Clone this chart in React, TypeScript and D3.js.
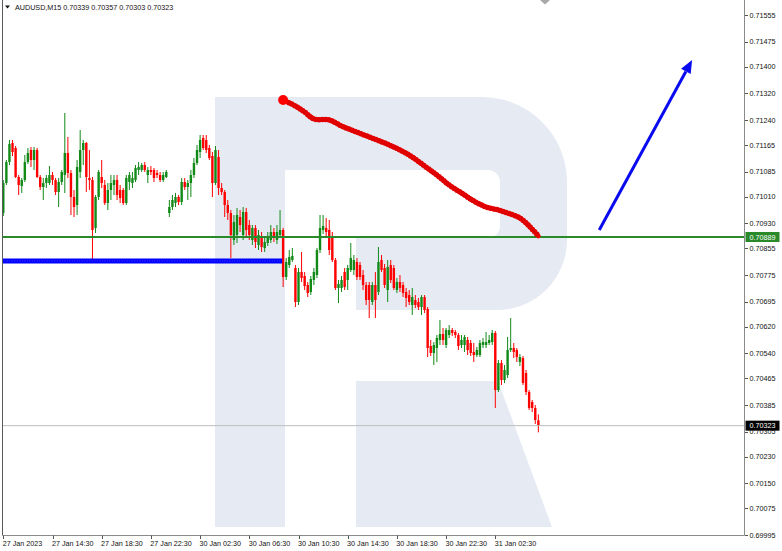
import React from "react";
import * as d3 from "d3";

const symbolTitle = "AUDUSD,M15";
const headerValues = ["0.70339", "0.70357", "0.70303", "0.70323"];

const opens = [
  0.70961,0.71051,0.71114,0.71171,0.71156,0.71069,0.71042,0.71060,0.71114,0.71150,
  0.71120,0.71150,0.71069,0.71039,0.71051,0.71051,0.71075,0.71060,0.71024,0.71054,
  0.71075,0.71141,0.71081,0.71009,0.70985,0.71084,0.71150,0.71171,0.71066,0.71060,
  0.70916,0.71009,0.71069,0.71045,0.70991,0.71030,0.71045,0.71060,0.71030,0.71030,
  0.70991,0.71054,0.71051,0.71060,0.71090,0.71090,0.71105,0.71075,0.71090,0.71090,
  0.71081,0.71075,0.71060,0.71069,0.70961,0.70979,0.70991,0.71009,0.70994,0.71054,
  0.71039,0.71051,0.71075,0.71111,0.71144,0.71186,0.71180,0.71156,0.71132,0.71051,
  0.71129,0.71036,0.71024,0.70985,0.70961,0.70880,0.70895,0.70949,0.70895,0.70964,
  0.70925,0.70880,0.70916,0.70865,0.70886,0.70856,0.70871,0.70880,0.70904,0.70880,
  0.70895,0.70910,0.70769,0.70805,0.70820,0.70796,0.70694,0.70784,0.70772,0.70745,
  0.70724,0.70760,0.70775,0.70850,0.70910,0.70916,0.70910,0.70889,0.70820,0.70736,
  0.70736,0.70784,0.70760,0.70790,0.70790,0.70814,0.70805,0.70775,0.70745,0.70745,
  0.70694,0.70745,0.70724,0.70820,0.70796,0.70730,0.70805,0.70796,0.70730,0.70754,
  0.70745,0.70724,0.70715,0.70685,0.70700,0.70694,0.70679,0.70709,0.70673,0.70562,
  0.70541,0.70556,0.70580,0.70598,0.70565,0.70595,0.70610,0.70604,0.70595,0.70565,
  0.70565,0.70580,0.70571,0.70544,0.70535,0.70535,0.70565,0.70565,0.70571,0.70574,
  0.70601,0.70430,0.70511,0.70460,0.70475,0.70550,0.70556,0.70550,0.70514,0.70526,
  0.70481,0.70424,0.70394,0.70376,0.70339,
];

const highs = [
  0.71060,0.71120,0.71180,0.71180,0.71162,0.71075,0.71066,0.71135,0.71156,0.71159,
  0.71159,0.71156,0.71075,0.71066,0.71075,0.71102,0.71084,0.71066,0.71066,0.71090,
  0.71261,0.71189,0.71090,0.71030,0.71120,0.71210,0.71180,0.71174,0.71150,0.71069,
  0.71015,0.71090,0.71120,0.71060,0.71051,0.71075,0.71075,0.71075,0.71045,0.71036,
  0.71075,0.71084,0.71084,0.71105,0.71114,0.71111,0.71114,0.71099,0.71102,0.71096,
  0.71090,0.71084,0.71084,0.71090,0.71000,0.71015,0.71021,0.71015,0.71066,0.71066,
  0.71060,0.71090,0.71126,0.71165,0.71195,0.71195,0.71195,0.71165,0.71144,0.71162,
  0.71150,0.71051,0.71030,0.71000,0.70970,0.70955,0.70976,0.70970,0.70979,0.70976,
  0.70940,0.70925,0.70925,0.70910,0.70904,0.70886,0.70904,0.70925,0.70916,0.70925,
  0.70970,0.70916,0.70826,0.70850,0.70856,0.70805,0.70796,0.70844,0.70784,0.70754,
  0.70772,0.70796,0.70856,0.70955,0.70955,0.70946,0.70940,0.70904,0.70826,0.70760,
  0.70772,0.70796,0.70805,0.70871,0.70835,0.70826,0.70814,0.70790,0.70754,0.70754,
  0.70754,0.70784,0.70859,0.70835,0.70808,0.70820,0.70820,0.70805,0.70766,0.70775,
  0.70754,0.70736,0.70730,0.70736,0.70715,0.70706,0.70715,0.70715,0.70679,0.70580,
  0.70574,0.70595,0.70640,0.70616,0.70616,0.70625,0.70616,0.70610,0.70601,0.70595,
  0.70595,0.70589,0.70580,0.70571,0.70559,0.70580,0.70586,0.70604,0.70595,0.70610,
  0.70607,0.70520,0.70520,0.70505,0.70589,0.70646,0.70571,0.70556,0.70538,0.70532,
  0.70490,0.70430,0.70400,0.70385,0.70357,
];

const lows = [
  0.70952,0.71045,0.71105,0.71132,0.71066,0.71015,0.71021,0.71054,0.71108,0.71099,
  0.71090,0.71066,0.71030,0.71000,0.71036,0.71045,0.71045,0.71015,0.70979,0.71045,
  0.71021,0.71066,0.70955,0.70949,0.70955,0.71066,0.71105,0.71024,0.71030,0.70820,
  0.70901,0.71000,0.71036,0.70985,0.70970,0.71000,0.71015,0.71000,0.70991,0.70985,
  0.70985,0.71030,0.71036,0.71054,0.71075,0.71084,0.71084,0.71051,0.71075,0.71054,
  0.71066,0.71054,0.71054,0.71066,0.70949,0.70970,0.70979,0.70985,0.70985,0.71030,
  0.71000,0.71009,0.71066,0.71105,0.71126,0.71150,0.71141,0.71120,0.71009,0.71045,
  0.71015,0.71015,0.70949,0.70940,0.70826,0.70865,0.70871,0.70904,0.70880,0.70886,
  0.70880,0.70865,0.70856,0.70850,0.70844,0.70844,0.70862,0.70871,0.70874,0.70868,
  0.70886,0.70739,0.70760,0.70796,0.70814,0.70679,0.70685,0.70754,0.70730,0.70709,
  0.70715,0.70745,0.70766,0.70841,0.70898,0.70892,0.70835,0.70814,0.70730,0.70691,
  0.70724,0.70730,0.70730,0.70784,0.70775,0.70760,0.70760,0.70730,0.70685,0.70646,
  0.70685,0.70646,0.70715,0.70784,0.70736,0.70694,0.70751,0.70730,0.70721,0.70724,
  0.70709,0.70679,0.70685,0.70655,0.70676,0.70670,0.70655,0.70661,0.70529,0.70532,
  0.70505,0.70514,0.70565,0.70565,0.70556,0.70586,0.70592,0.70586,0.70550,0.70556,
  0.70544,0.70535,0.70532,0.70514,0.70529,0.70529,0.70556,0.70556,0.70565,0.70565,
  0.70376,0.70424,0.70445,0.70451,0.70466,0.70544,0.70526,0.70514,0.70502,0.70445,
  0.70415,0.70370,0.70364,0.70328,0.70303,
];

const closes = [
  0.71051,0.71114,0.71168,0.71144,0.71069,0.71045,0.71060,0.71114,0.71141,0.71120,
  0.71150,0.71069,0.71039,0.71051,0.71066,0.71075,0.71060,0.71024,0.71054,0.71084,
  0.71141,0.71081,0.71009,0.70979,0.71099,0.71150,0.71171,0.71069,0.71060,0.70910,
  0.71009,0.71084,0.71051,0.70991,0.71030,0.71051,0.71060,0.71015,0.71006,0.70991,
  0.71066,0.71075,0.71066,0.71096,0.71099,0.71105,0.71090,0.71090,0.71084,0.71066,
  0.71075,0.71060,0.71075,0.71084,0.70979,0.71000,0.71009,0.70994,0.71054,0.71039,
  0.71051,0.71075,0.71111,0.71150,0.71180,0.71156,0.71150,0.71126,0.71051,0.71150,
  0.71036,0.71024,0.70985,0.70961,0.70895,0.70934,0.70955,0.70925,0.70964,0.70910,
  0.70895,0.70916,0.70874,0.70895,0.70859,0.70874,0.70886,0.70904,0.70886,0.70904,
  0.70910,0.70769,0.70814,0.70829,0.70832,0.70694,0.70784,0.70766,0.70742,0.70721,
  0.70763,0.70784,0.70850,0.70916,0.70922,0.70904,0.70850,0.70820,0.70736,0.70748,
  0.70760,0.70739,0.70796,0.70826,0.70820,0.70769,0.70769,0.70745,0.70700,0.70700,
  0.70745,0.70700,0.70814,0.70790,0.70745,0.70799,0.70760,0.70736,0.70754,0.70736,
  0.70721,0.70706,0.70694,0.70709,0.70685,0.70679,0.70709,0.70670,0.70556,0.70541,
  0.70565,0.70586,0.70598,0.70580,0.70610,0.70610,0.70601,0.70595,0.70562,0.70580,
  0.70589,0.70550,0.70541,0.70535,0.70550,0.70571,0.70574,0.70574,0.70580,0.70601,
  0.70430,0.70511,0.70460,0.70490,0.70550,0.70556,0.70544,0.70529,0.70529,0.70451,
  0.70424,0.70376,0.70376,0.70340,0.70323,
];

const priceTicks = [
  0.71555, 0.71475, 0.71400, 0.71320, 0.71240, 0.71165, 0.71085, 0.71010, 0.70930, 0.70855,
  0.70775, 0.70695, 0.70620, 0.70540, 0.70465, 0.70385, 0.70305, 0.70230, 0.70150, 0.70075, 0.69995,
];
const timeTickIndex = [0, 16, 32, 48, 64, 80, 96, 112, 128, 144, 160];
const timeTickLabels = [
  "27 Jan 2023", "27 Jan 14:30", "27 Jan 18:30", "27 Jan 22:30", "30 Jan 02:30", "30 Jan 06:30",
  "30 Jan 10:30", "30 Jan 14:30", "30 Jan 18:30", "30 Jan 22:30", "31 Jan 02:30",
];

const levelPrice = 0.70889;
const bidPrice = 0.70323;
const supportPrice = 0.70817;
const supportRange = [0, 91];

const forecastIdx = [91, 95, 98, 101, 106, 110, 114, 119, 124, 129, 133, 137, 141, 145, 149, 153, 157, 161, 164, 168, 171, 174];
const forecastPrice = [
  0.71300, 0.71282, 0.71264, 0.71243, 0.71240, 0.71222, 0.71207, 0.71189, 0.71171, 0.71150, 0.71129,
  0.71102, 0.71075, 0.71045, 0.71021, 0.70997, 0.70979, 0.70970, 0.70961, 0.70946, 0.70922, 0.70892,
];

const arrowIdx = [193.8, 224];
const arrowPrice = [0.70910, 0.71420];

const FONT = "'Liberation Sans', Arial, sans-serif";

export default function App() {
  const plotLeft = 3;
  const plotRight = 744;
  const plotBottom = 535.5;
  const x = d3.scaleLinear().domain([0, 160]).range([3.3, 495.3]);
  const y = d3.scaleLinear().domain([0.69995, 0.71555]).range([535, 15]);

  const bull = "#118a18";
  const bear = "#ff0000";

  const forecastPts = forecastIdx.map((d, k) => [x(d), y(forecastPrice[k])] as [number, number]);
  const forecastPath = d3.line().curve(d3.curveCatmullRom)(forecastPts) || "";

  const ax0 = x(arrowIdx[0]), ay0 = y(arrowPrice[0]);
  const ax1 = x(arrowIdx[1]), ay1 = y(arrowPrice[1]);
  const ang = Math.atan2(ay1 - ay0, ax1 - ax0);
  const headLen = 13, headW = 5.5;
  const bx = ax1 - headLen * Math.cos(ang), by = ay1 - headLen * Math.sin(ang);
  const head = [
    [ax1, ay1],
    [bx + headW * Math.sin(ang), by - headW * Math.cos(ang)],
    [bx - headW * Math.sin(ang), by + headW * Math.cos(ang)],
  ];

  // watermark logo geometry
  const wm = "#e6ebf3";
  const bowlPath = [
    "M215,97 L482,97 A85,85 0 0 1 567,182 L567,240 A70,70 0 0 1 497,310",
    "L356,310 L356,238 L285,238 L285,527 L215,527 Z",
  ].join(" ");
  const holePath = "M285,170 L488,170 A12,12 0 0 1 500,182 L500,226 A12,12 0 0 1 488,238 L285,238 Z";
  const legPath = "M356,381 L498,381 L552,527 L356,527 Z";

  return (
    <svg
      width={782}
      height={551}
      style={{ position: "absolute", left: 0, top: 0, display: "block", background: "#fff" }}
    >
      <defs>
        <clipPath id="plot">
          <rect x={plotLeft} y={0} width={plotRight - plotLeft} height={plotBottom} />
        </clipPath>
      </defs>
      <rect x={0} y={0} width={782} height={551} fill="#fff" />

      {/* watermark */}
      <g>
        <path d={bowlPath} fill={wm} />
        <path d={holePath} fill="#fff" />
        <path d={legPath} fill={wm} />
      </g>

      <g clipPath="url(#plot)">
        {/* candles */}
        {closes.map((c, i) => {
          const o = opens[i];
          const up = c >= o;
          const col = up ? bull : bear;
          const cx = x(i);
          const top = y(Math.max(o, c));
          const h = Math.max(1, Math.abs(y(o) - y(c)));
          return (
            <g key={i}>
              <line x1={cx} x2={cx} y1={y(highs[i])} y2={y(lows[i])} stroke={col} strokeWidth={1} />
              <rect x={cx - 1.2} y={top} width={2.4} height={h} fill={col} />
            </g>
          );
        })}

        {/* bid line */}
        <line x1={plotLeft} x2={plotRight} y1={y(bidPrice)} y2={y(bidPrice)} stroke="#bdbdbd" strokeWidth={1} />

        {/* green level */}
        <line x1={plotLeft} x2={plotRight} y1={y(levelPrice)} y2={y(levelPrice)} stroke="#2a8a2a" strokeWidth={2} />

        {/* blue support */}
        <line
          x1={x(supportRange[0]) - 4}
          x2={x(supportRange[1]) - 1}
          y1={y(supportPrice)}
          y2={y(supportPrice)}
          stroke="#0000ff"
          strokeWidth={5}
        />
        <line
          x1={x(supportRange[0]) - 4}
          x2={x(supportRange[1]) - 1}
          y1={y(supportPrice)}
          y2={y(supportPrice)}
          stroke="#4a4aff"
          strokeWidth={1}
          strokeDasharray="1 1.5"
        />

        {/* red forecast */}
        <path d={forecastPath} fill="none" stroke="#ff0000" strokeWidth={4.5} strokeLinecap="round" strokeLinejoin="round" />
        <path d={forecastPath} fill="none" stroke="#e00000" strokeWidth={5.5} strokeLinecap="round" strokeDasharray="0 3.2" />
        <circle cx={forecastPts[0][0]} cy={forecastPts[0][1]} r={5} fill="#ff0000" />

        {/* blue arrow */}
        <line x1={ax0} y1={ay0} x2={bx} y2={by} stroke="#0a0af0" strokeWidth={3} />
        <polygon points={head.map((p) => p.join(",")).join(" ")} fill="#0a0af0" />
      </g>

      {/* frame */}
      <line x1={2.5} x2={2.5} y1={0} y2={plotBottom} stroke="#5a5a5a" strokeWidth={1} />
      <line x1={2.5} x2={plotRight + 0.5} y1={plotBottom} y2={plotBottom} stroke="#8a8a8a" strokeWidth={1} />
      <line x1={plotRight + 0.5} x2={plotRight + 0.5} y1={0} y2={plotBottom} stroke="#8a8a8a" strokeWidth={1} />
      <polygon points="540,0 550,0 545,4.5" fill="#a8a8a8" />

      {/* header */}
      <polygon points="5,5.5 10,5.5 7.5,8.5" fill="#111" />
      <text x={15} y={10} fontFamily={FONT} fontSize={7.2} fill="#111">
        {symbolTitle + "  " + headerValues.join(" ")}
      </text>

      {/* price axis */}
      {priceTicks.map((p, k) => (
        <g key={"pt" + k}>
          <line x1={plotRight + 1} x2={plotRight + 4} y1={Math.round(y(p)) + 0.5} y2={Math.round(y(p)) + 0.5} stroke="#555" />
          <text x={749.5} y={y(p) + 2.6} fontFamily={FONT} fontSize={7.2} fill="#111">
            {p.toFixed(5)}
          </text>
        </g>
      ))}

      {/* level labels */}
      <rect x={745.5} y={y(levelPrice) - 5} width={34} height={10} fill="#2a8a2a" />
      <text x={749.5} y={y(levelPrice) + 2.6} fontFamily={FONT} fontSize={7.2} fill="#fff">
        {levelPrice.toFixed(5)}
      </text>
      <rect x={745.5} y={y(bidPrice) - 5} width={34} height={10} fill="#000" />
      <text x={749.5} y={y(bidPrice) + 2.6} fontFamily={FONT} fontSize={7.2} fill="#fff">
        {bidPrice.toFixed(5)}
      </text>

      {/* time axis */}
      {timeTickIndex.map((t, k) => (
        <g key={"tt" + k}>
          <line x1={Math.round(x(t)) + 0.5} x2={Math.round(x(t)) + 0.5} y1={plotBottom} y2={plotBottom + 3.5} stroke="#555" />
          <text x={x(t) - 0.6} y={546} fontFamily={FONT} fontSize={7.2} fill="#111">
            {timeTickLabels[k]}
          </text>
        </g>
      ))}
    </svg>
  );
}
